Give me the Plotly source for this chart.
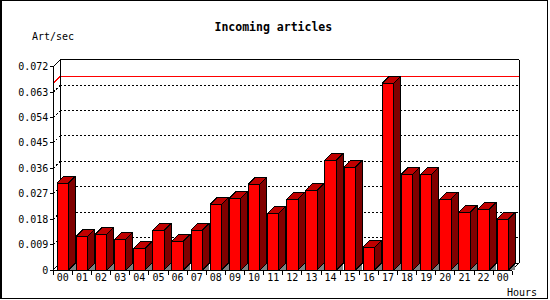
import plotly.graph_objects as go

# ---- data ----
hours = ["00", "01", "02", "03", "04", "05", "06", "07", "08", "09", "10", "11",
         "12", "13", "14", "15", "16", "17", "18", "19", "20", "21", "22", "00"]
values = [0.0308, 0.0120, 0.0127, 0.0109, 0.0077, 0.0141, 0.0102, 0.0141,
          0.0233, 0.0254, 0.0304, 0.0201, 0.0251, 0.0283, 0.0389, 0.0364,
          0.0081, 0.0662, 0.0339, 0.0339, 0.0251, 0.0205, 0.0215, 0.0180]
ytick_vals = [0, 0.009, 0.018, 0.027, 0.036, 0.045, 0.054, 0.063, 0.072]
ytick_text = ["0", "0.009", "0.018", "0.027", "0.036", "0.045", "0.054", "0.063", "0.072"]
title_text = "Incoming articles"
y_label = "Art/sec"
x_label = "Hours"

# ---- geometry (pixels) ----
FIG_W, FIG_H = 550, 300
PL, PR, PT, PB = 51, 523, 58, 272          # plot area in pixels
FX0 = 53.3                                  # front-left axis pixel
SLOT = 19.125                               # px per category
Y0PX = 270.0                                # pixel of value 0 (front)
K = 203.3 / 0.072                           # px per value unit
DEPTH = 7.0                                 # 3D depth, px
BARW = 0.6

n = len(values)
xr = [-0.5 - (FX0 - PL) / SLOT, -0.5 + (PR - FX0) / SLOT]
yr = [-(PB - Y0PX) / K, (Y0PX - PT) / K]
dx = DEPTH / SLOT
dy = DEPTH / K
ymax_axis = ytick_vals[-1]
xl, xrt = -0.5, n - 0.5


def paper_x(px):
    return (px - PL) / (PR - PL)


def paper_y(py):
    return (PB - py) / (PB - PT)


fig = go.Figure()

centers = list(range(n))

# front faces
fig.add_trace(go.Bar(x=centers, y=values, width=BARW,
                     marker=dict(color="#ff0000", line=dict(color="black", width=1)),
                     hoverinfo="skip", showlegend=False))

# gray floor triangles, side faces, top faces
tri_x, tri_y, side_x, side_y, top_x, top_y = [], [], [], [], [], []
for c, v in zip(centers, values):
    x0 = c - BARW / 2
    x1 = c + BARW / 2
    tri_x += [x1, x1 + dx, x1 + dx, x1, None]
    tri_y += [0, dy, 0, 0, None]
    side_x += [x1, x1 + dx, x1 + dx, x1, x1, None]
    side_y += [0, dy, v + dy, v, 0, None]
    top_x += [x0, x1, x1 + dx, x0 + dx, x0, None]
    top_y += [v, v, v + dy, v + dy, v, None]

fig.add_trace(go.Scatter(x=tri_x, y=tri_y, mode="lines", fill="toself",
                         fillcolor="#808080", line=dict(width=0, color="#808080"),
                         hoverinfo="skip", showlegend=False))
fig.add_trace(go.Scatter(x=side_x, y=side_y, mode="lines", fill="toself",
                         fillcolor="#800000", line=dict(width=1, color="black"),
                         hoverinfo="skip", showlegend=False))
fig.add_trace(go.Scatter(x=top_x, y=top_y, mode="lines", fill="toself",
                         fillcolor="#c00000", line=dict(width=1, color="black"),
                         hoverinfo="skip", showlegend=False))

# dummy trace for boundary tick axis
bounds = [i - 0.5 for i in range(n + 1)]
fig.add_trace(go.Scatter(x=bounds, y=[None] * len(bounds), xaxis="x2", mode="markers",
                         hoverinfo="skip", showlegend=False))

shapes = []
# dotted gridlines on back plane + slanted connectors
for v in ytick_vals[1:-1]:
    shapes.append(dict(type="line", xref="x", yref="y", layer="below",
                       x0=xl + dx, x1=xrt + dx, y0=v + dy, y1=v + dy,
                       line=dict(color="black", width=1, dash="2px,2px")))
    shapes.append(dict(type="line", xref="x", yref="y", layer="below",
                       x0=xl, x1=xl + dx, y0=v, y1=v + dy,
                       line=dict(color="black", width=1, dash="2px,2px")))

# max line
vmax = max(values)
shapes.append(dict(type="line", xref="x", yref="y", layer="below",
                   x0=xl + dx, x1=xrt + dx, y0=vmax + dy, y1=vmax + dy,
                   line=dict(color="#ff0000", width=1)))
shapes.append(dict(type="line", xref="x", yref="y", layer="below",
                   x0=xl, x1=xl + dx, y0=vmax, y1=vmax + dy,
                   line=dict(color="#ff0000", width=1)))

solid = dict(color="black", width=1)
frame_lines = [
    (xl, 0, xl, ymax_axis),                                   # front left axis
    (xl, ymax_axis, xl + dx, ymax_axis + dy),                 # top-left slant
    (xl + dx, dy, xl + dx, ymax_axis + dy),                   # back left
    (xl + dx, ymax_axis + dy, xrt + dx, ymax_axis + dy),      # back top
    (xrt + dx, dy, xrt + dx, ymax_axis + dy),                 # back right
    (xl + dx, dy, xrt + dx, dy),                              # back bottom
    (xl, 0, xl + dx, dy),                                     # bottom-left slant
    (xl, 0, xrt, 0),                                          # front bottom
    (xrt, 0, xrt + dx, dy),                                   # bottom-right slant
]
for (a, b, c2, d) in frame_lines:
    shapes.append(dict(type="line", xref="x", yref="y", layer="below",
                       x0=a, y0=b, x1=c2, y1=d, line=solid))

# outer border
shapes.append(dict(type="rect", xref="paper", yref="paper",
                   x0=paper_x(0.75), x1=paper_x(547.5), y0=paper_y(0.5), y1=paper_y(298.5),
                   line=dict(color="black", width=1.5), fillcolor="rgba(0,0,0,0)"))

mono = "DejaVu Sans Mono"
annotations = [
    dict(text=y_label, xref="paper", yref="paper", x=paper_x(29.5), y=paper_y(37),
         xanchor="left", yanchor="middle", showarrow=False,
         font=dict(family=mono, size=10, color="black")),
    dict(text=x_label, xref="paper", yref="paper", x=paper_x(504.5), y=paper_y(292),
         xanchor="left", yanchor="middle", showarrow=False,
         font=dict(family=mono, size=10, color="black")),
]

axis_pos_x = (FX0 - PL) / (PR - PL)
axis_pos_y = (PB - Y0PX) / (PB - PT)

fig.update_layout(
    width=FIG_W, height=FIG_H,
    margin=dict(l=PL, r=FIG_W - PR, t=PT, b=FIG_H - PB, pad=0),
    paper_bgcolor="white", plot_bgcolor="white",
    title=dict(text="<b>" + title_text + "</b>", x=0.497, xref="container", xanchor="center",
               y=1 - 27 / FIG_H, yref="container", yanchor="middle",
               font=dict(family=mono, size=11.5, color="black")),
    xaxis=dict(range=xr, anchor="free", position=axis_pos_y, showgrid=False, zeroline=False,
               showline=False, tickmode="array", tickvals=centers, ticktext=hours,
               ticks="", tickfont=dict(family=mono, size=10, color="black"),
               fixedrange=True),
    xaxis2=dict(range=xr, anchor="free", position=axis_pos_y, overlaying="x",
                showgrid=False, zeroline=False, showline=False, tickmode="array",
                tickvals=bounds, ticktext=[""] * len(bounds), ticks="outside",
                ticklen=4, tickwidth=1, tickcolor="black", fixedrange=True),
    yaxis=dict(range=yr, anchor="free", position=axis_pos_x, showgrid=False, zeroline=False,
               showline=False, tickmode="array", tickvals=ytick_vals, ticktext=ytick_text,
               ticks="outside", ticklen=3, tickwidth=1, tickcolor="black",
               tickfont=dict(family=mono, size=10, color="black"), fixedrange=True),
    shapes=shapes,
    annotations=annotations,
    showlegend=False,
    bargap=0,
)

crisp_js = """
var st = document.createElement('style');
st.textContent = '.main-svg path { shape-rendering: crispEdges; }';
document.head.appendChild(st);
"""

fig.write_html("out.html", config=dict(displayModeBar=False, staticPlot=True),
               post_script=crisp_js)
